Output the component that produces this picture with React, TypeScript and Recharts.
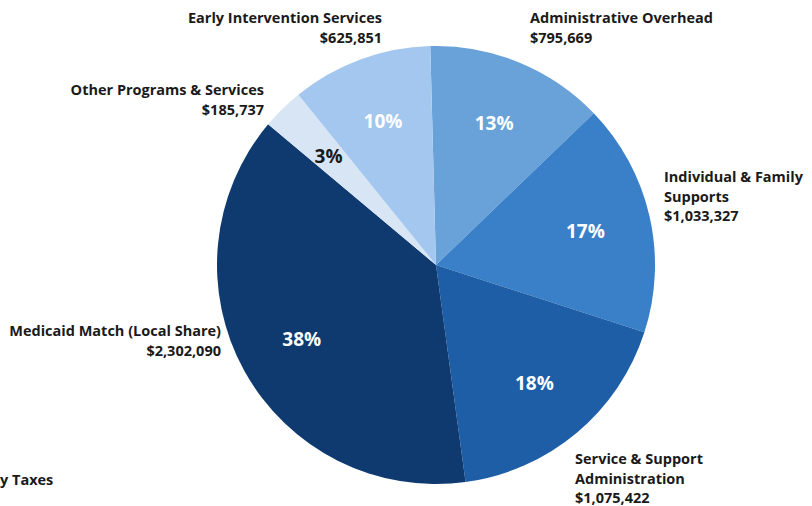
import { PieChart, Pie, Cell } from "recharts"

const categories = [
  "Administrative Overhead",
  "Individual & Family Supports",
  "Service & Support Administration",
  "Medicaid Match (Local Share)",
  "Other Programs & Services",
  "Early Intervention Services",
]
const amounts = [795669, 1033327, 1075422, 2302090, 185737, 625851]
const COLORS = ["#68a2d9", "#3a80c8", "#1d5ea6", "#0e3a6f", "#d7e5f5", "#a3c7ee"]
const PCT_COLORS = ["#fff", "#fff", "#fff", "#fff", "#1a1a1a", "#fff"]

const data = categories.map((name, i) => ({ name, value: amounts[i] }))

const fmt = (v: number) => "$" + v.toLocaleString("en-US")

const RADIAN = Math.PI / 180
const FONT = "'Open Sans', Lato, sans-serif"

const renderPct = (props: any) => {
  const { cx, cy, midAngle, outerRadius, percent, index } = props
  const r = outerRadius * 0.7
  const x = cx + r * Math.cos(-midAngle * RADIAN)
  const y = cy + r * Math.sin(-midAngle * RADIAN)
  return (
    <text
      x={x}
      y={y}
      textAnchor="middle"
      dominantBaseline="central"
      fill={PCT_COLORS[index]}
      fontSize={19}
      fontWeight={700}
      fontFamily={FONT}
    >
      {`${Math.round(percent * 100)}%`}
    </text>
  )
}

// outer callouts: lines of text per slice
const callouts = [
  { lines: ["Administrative Overhead", fmt(amounts[0])], left: 530, top: 8, align: "left" },
  { lines: ["Individual & Family", "Supports", fmt(amounts[1])], left: 664, top: 167, align: "left" },
  { lines: ["Service & Support", "Administration", fmt(amounts[2])], left: 575, top: 449, align: "left" },
  { lines: ["Medicaid Match (Local Share)", fmt(amounts[3])], right: 812 - 221, top: 321, align: "right" },
  { lines: ["Other Programs & Services", fmt(amounts[4])], right: 812 - 264, top: 80, align: "right" },
  { lines: ["Early Intervention Services", fmt(amounts[5])], right: 812 - 382, top: 8, align: "right" },
]

export default function App() {
  return (
    <div style={{ position: "absolute", left: 0, top: 0, width: 812, height: 506, background: "#fff", overflow: "hidden" }}>
      <PieChart width={812} height={506} margin={{ top: 0, right: 0, bottom: 0, left: 0 }}>
        <Pie
          data={data}
          dataKey="value"
          cx={436}
          cy={265}
          outerRadius={219}
          startAngle={91.5}
          endAngle={-268.5}
          stroke="none"
          label={renderPct}
          labelLine={false}
          isAnimationActive={false}
        >
          {data.map((entry, index) => (
            <Cell key={`cell-${index}`} fill={COLORS[index]} />
          ))}
        </Pie>
      </PieChart>
      {callouts.map((c, i) => (
        <div
          key={i}
          style={{
            position: "absolute",
            top: c.top,
            left: c.left,
            right: c.right,
            textAlign: c.align as any,
            fontFamily: FONT,
            fontWeight: 700,
            fontSize: 14.5,
            lineHeight: "19.5px",
            color: "#1a1a1a",
            whiteSpace: "nowrap",
          }}
        >
          {c.lines.map((l, j) => (
            <div key={j}>{l}</div>
          ))}
        </div>
      ))}
      <div
        style={{
          position: "absolute",
          left: 0,
          top: 470,
          fontFamily: FONT,
          fontWeight: 700,
          fontSize: 14.5,
          lineHeight: "20px",
          color: "#1a1a1a",
        }}
      >
        y Taxes
      </div>
    </div>
  )
}
